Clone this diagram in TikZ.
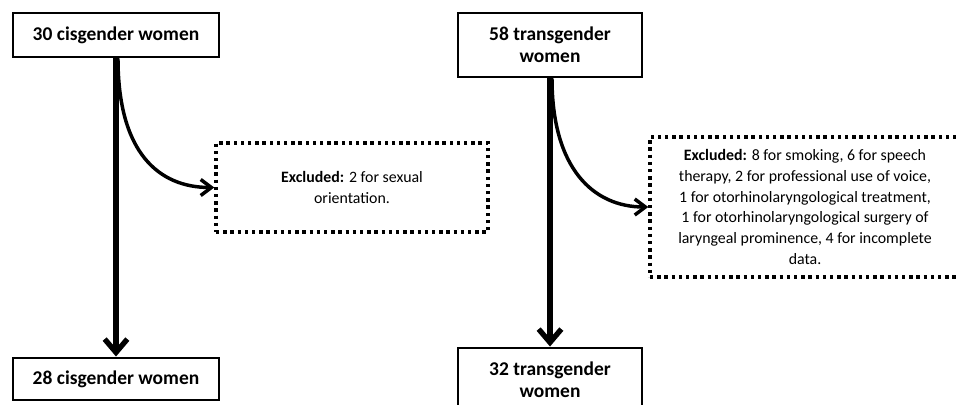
\documentclass[tikz,border=0pt]{standalone}
\usepackage{fontspec}
\setmainfont{Carlito}
\usetikzlibrary{arrows.meta}

\begin{document}
\begin{tikzpicture}[x=0.75pt,y=0.75pt,yscale=-1,xscale=1,
    groupbox/.style={draw,line width=2.2pt,fill=white,align=center,inner sep=0pt,
        font=\fontsize{14.6}{16.5}\selectfont\bfseries},
    exclbox/.style={draw,line width=2.6pt,dash pattern=on 2.6pt off 2.8pt,align=center,inner sep=0pt,
        font=\fontsize{11.9}{15.5}\selectfont},
    mainarrow/.style={line width=4pt,-{Straight Barb[length=10pt,width=17pt]}},
    exclarrow/.style={line width=2.6pt,-{Straight Barb[length=8pt,width=12pt]}}]
        \useasboundingbox (0,0) rectangle (956,404) ;
        \node [groupbox,minimum width=154.5pt,minimum height=33pt] (cis30) at (116,35) {30 cisgender women} ;
        \node [groupbox,minimum width=154.5pt,minimum height=31.5pt] (cis28) at (116,379) {28 cisgender women} ;
        \node [groupbox,minimum width=138pt,minimum height=48pt] (trans58) at (550,45) {58 transgender\\women} ;
        \node [groupbox,minimum width=138pt,minimum height=48pt] (trans32) at (550,380) {32 transgender\\women} ;
        \node [exclbox,minimum width=204pt,minimum height=66.75pt] (exclcis) at (352,187.5) {\textbf{Excluded:} 2 for sexual\\orientation.} ;
        \node [exclbox,minimum width=232.5pt,minimum height=105pt] (excltrans) at (805,207) {\textbf{Excluded:} 8 for smoking, 6 for speech\\therapy, 2 for professional use of voice,\\1 for otorhinolaryngological treatment,\\1 for otorhinolaryngological surgery of\\laryngeal prominence, 4 for incomplete\\data.} ;
        \draw [mainarrow] (cis30.south) -- (cis28.north) ;
        \draw [mainarrow] (trans58.south) -- (trans32.north) ;
        \draw [exclarrow] ([xshift=1.5pt]cis30.south) .. controls +(0,95) and +(-55,0) .. (exclcis.west) ;
        \draw [exclarrow] ([xshift=1.5pt]trans58.south) .. controls +(0,90) and +(-55,0) .. (excltrans.west) ;
\end{tikzpicture}
\end{document}
